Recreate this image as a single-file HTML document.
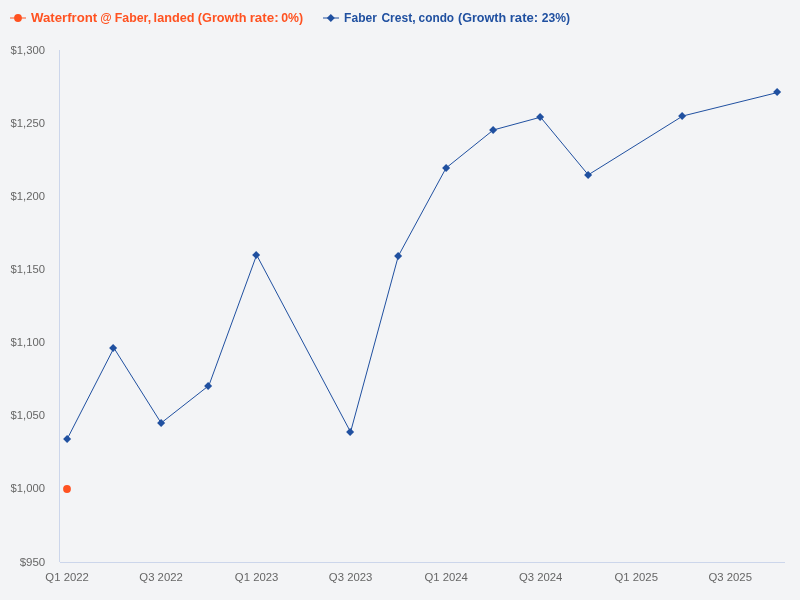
<!DOCTYPE html>
<html><head><meta charset="utf-8"><title>Chart</title>
<style>html,body{margin:0;padding:0;background:#f3f4f6;overflow:hidden}svg{display:block;will-change:transform}text{font-family:"Liberation Sans",sans-serif}</style></head>
<body>
<svg width="800" height="600" viewBox="0 0 800 600">
<rect x="0" y="0" width="800" height="600" fill="#f3f4f6"/>
<path d="M59.5 50V562" stroke="#ccd6eb" stroke-width="1" fill="none"/>
<path d="M60 562.5H785" stroke="#ccd6eb" stroke-width="1" fill="none"/>
<path d="M67.2 439 L113.91 348 L161.14 423 L208.89 385.55 L256.63 255 L350.57 432 L398.32 256 L446.07 168 L493.3 130 L540.53 117.2 L588.28 174.85 L682.73 116 L777.71 92.5" stroke="#2050a0" stroke-width="1" fill="none" stroke-linejoin="round" stroke-linecap="round"/>
<path d="M67.15 435L71.15 439L67.15 443L63.15 439Z" fill="#2050a0"/>
<path d="M113.15 344L117.15 348L113.15 352L109.15 348Z" fill="#2050a0"/>
<path d="M161.15 419L165.15 423L161.15 427L157.15 423Z" fill="#2050a0"/>
<path d="M208.15 382L212.15 386L208.15 390L204.15 386Z" fill="#2050a0"/>
<path d="M256.15 251L260.15 255L256.15 259L252.15 255Z" fill="#2050a0"/>
<path d="M350.15 428L354.15 432L350.15 436L346.15 432Z" fill="#2050a0"/>
<path d="M398.15 252L402.15 256L398.15 260L394.15 256Z" fill="#2050a0"/>
<path d="M446.15 164L450.15 168L446.15 172L442.15 168Z" fill="#2050a0"/>
<path d="M493.15 126L497.15 130L493.15 134L489.15 130Z" fill="#2050a0"/>
<path d="M540.15 113L544.15 117L540.15 121L536.15 117Z" fill="#2050a0"/>
<path d="M588.15 171L592.15 175L588.15 179L584.15 175Z" fill="#2050a0"/>
<path d="M682.15 112L686.15 116L682.15 120L678.15 116Z" fill="#2050a0"/>
<path d="M777.15 88L781.15 92L777.15 96L773.15 92Z" fill="#2050a0"/>
<circle cx="67" cy="489" r="3.9" fill="#ff5221"/>
<path d="M10 18H26" stroke="#ff5221" stroke-width="1"/>
<circle cx="18" cy="18" r="3.9" fill="#ff5221"/>
<text x="31.00" y="22" textLength="66.24" lengthAdjust="spacingAndGlyphs" font-size="12" font-weight="bold" fill="#ff5221">Waterfront</text>
<text x="100.31" y="22" textLength="11.42" lengthAdjust="spacingAndGlyphs" font-size="12" font-weight="bold" fill="#ff5221">@</text>
<text x="114.77" y="22" textLength="36.37" lengthAdjust="spacingAndGlyphs" font-size="12" font-weight="bold" fill="#ff5221">Faber,</text>
<text x="153.64" y="22" textLength="40.84" lengthAdjust="spacingAndGlyphs" font-size="12" font-weight="bold" fill="#ff5221">landed</text>
<text x="197.85" y="22" textLength="48.63" lengthAdjust="spacingAndGlyphs" font-size="12" font-weight="bold" fill="#ff5221">(Growth</text>
<text x="249.65" y="22" textLength="29.07" lengthAdjust="spacingAndGlyphs" font-size="12" font-weight="bold" fill="#ff5221">rate:</text>
<text x="281.24" y="22" textLength="21.85" lengthAdjust="spacingAndGlyphs" font-size="12" font-weight="bold" fill="#ff5221">0%)</text>
<path d="M323 18H339" stroke="#2050a0" stroke-width="1"/>
<path d="M330.8 14L334.8 18L330.8 22L326.8 18Z" fill="#2050a0"/>
<text x="344.10" y="22" textLength="32.77" lengthAdjust="spacingAndGlyphs" font-size="12" font-weight="bold" fill="#2050a0">Faber</text>
<text x="381.42" y="22" textLength="34.15" lengthAdjust="spacingAndGlyphs" font-size="12" font-weight="bold" fill="#2050a0">Crest,</text>
<text x="418.62" y="22" textLength="35.48" lengthAdjust="spacingAndGlyphs" font-size="12" font-weight="bold" fill="#2050a0">condo</text>
<text x="458.02" y="22" textLength="48.16" lengthAdjust="spacingAndGlyphs" font-size="12" font-weight="bold" fill="#2050a0">(Growth</text>
<text x="509.77" y="22" textLength="28.45" lengthAdjust="spacingAndGlyphs" font-size="12" font-weight="bold" fill="#2050a0">rate:</text>
<text x="541.82" y="22" textLength="28.29" lengthAdjust="spacingAndGlyphs" font-size="12" font-weight="bold" fill="#2050a0">23%)</text>
<text class="yl" x="10.54" y="54" textLength="34.45" lengthAdjust="spacingAndGlyphs" font-size="11" fill="#666666">$1,300</text>
<text class="yl" x="10.54" y="127" textLength="34.45" lengthAdjust="spacingAndGlyphs" font-size="11" fill="#666666">$1,250</text>
<text class="yl" x="10.54" y="200" textLength="34.45" lengthAdjust="spacingAndGlyphs" font-size="11" fill="#666666">$1,200</text>
<text class="yl" x="10.54" y="273" textLength="34.45" lengthAdjust="spacingAndGlyphs" font-size="11" fill="#666666">$1,150</text>
<text class="yl" x="10.54" y="346" textLength="34.45" lengthAdjust="spacingAndGlyphs" font-size="11" fill="#666666">$1,100</text>
<text class="yl" x="10.54" y="419" textLength="34.45" lengthAdjust="spacingAndGlyphs" font-size="11" fill="#666666">$1,050</text>
<text class="yl" x="10.54" y="492" textLength="34.45" lengthAdjust="spacingAndGlyphs" font-size="11" fill="#666666">$1,000</text>
<text class="yl" x="19.65" y="566" textLength="25.64" lengthAdjust="spacingAndGlyphs" font-size="11" fill="#666666">$950</text>
<text class="xl" x="45.36" y="581" textLength="43.5" lengthAdjust="spacingAndGlyphs" font-size="11" fill="#666666">Q1 2022</text>
<text class="xl" x="139.35" y="581" textLength="43.5" lengthAdjust="spacingAndGlyphs" font-size="11" fill="#666666">Q3 2022</text>
<text class="xl" x="234.89" y="581" textLength="43.5" lengthAdjust="spacingAndGlyphs" font-size="11" fill="#666666">Q1 2023</text>
<text class="xl" x="328.88" y="581" textLength="43.5" lengthAdjust="spacingAndGlyphs" font-size="11" fill="#666666">Q3 2023</text>
<text class="xl" x="424.43" y="581" textLength="43.5" lengthAdjust="spacingAndGlyphs" font-size="11" fill="#666666">Q1 2024</text>
<text class="xl" x="518.93" y="581" textLength="43.5" lengthAdjust="spacingAndGlyphs" font-size="11" fill="#666666">Q3 2024</text>
<text class="xl" x="614.48" y="581" textLength="43.5" lengthAdjust="spacingAndGlyphs" font-size="11" fill="#666666">Q1 2025</text>
<text class="xl" x="708.47" y="581" textLength="43.5" lengthAdjust="spacingAndGlyphs" font-size="11" fill="#666666">Q3 2025</text>
</svg></body></html>
